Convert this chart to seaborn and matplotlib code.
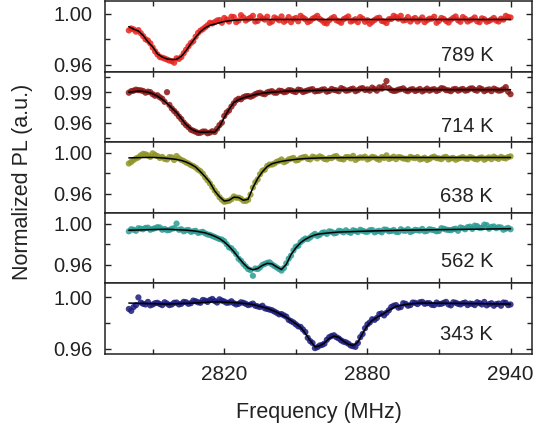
import matplotlib
matplotlib.use("Agg")
import matplotlib.pyplot as plt
from matplotlib.ticker import MultipleLocator, FixedLocator, FormatStrFormatter
import seaborn as sns
import pandas as pd

# ---------------- data ----------------
freq_even = [2780, 2782, 2784, 2786, 2788, 2790, 2792, 2794, 2796, 2798,
             2800, 2802, 2804, 2806, 2808, 2810, 2812, 2814, 2816, 2818,
             2820, 2822, 2824, 2826, 2828, 2830, 2832, 2834, 2836, 2838,
             2840, 2842, 2844, 2846, 2848, 2850, 2852, 2854, 2856, 2858,
             2860, 2862, 2864, 2866, 2868, 2870, 2872, 2874, 2876, 2878,
             2880, 2882, 2884, 2886, 2888, 2890, 2892, 2894, 2896, 2898,
             2900, 2902, 2904, 2906, 2908, 2910, 2912, 2914, 2916, 2918,
             2920, 2922, 2924, 2926, 2928, 2930, 2932, 2934, 2936, 2938,
             2940]
freq_odd = [2781, 2783, 2785, 2787, 2789, 2791, 2793, 2795, 2797, 2799,
            2801, 2803, 2805, 2807, 2809, 2811, 2813, 2815, 2817, 2819,
            2821, 2823, 2825, 2827, 2829, 2831, 2833, 2835, 2837, 2839,
            2841, 2843, 2845, 2847, 2849, 2851, 2853, 2855, 2857, 2859,
            2861, 2863, 2865, 2867, 2869, 2871, 2873, 2875, 2877, 2879,
            2881, 2883, 2885, 2887, 2889, 2891, 2893, 2895, 2897, 2899,
            2901, 2903, 2905, 2907, 2909, 2911, 2913, 2915, 2917, 2919,
            2921, 2923, 2925, 2927, 2929, 2931, 2933, 2935, 2937, 2939]

labels = ["789 K", "714 K", "638 K", "562 K", "343 K"]
colors = ["#e8241e", "#8c1616", "#8e9426", "#2a9c94", "#1c1c7e"]

# measured PL at even frequencies
pl_789_even = [0.9870, 0.9878, 0.9872, 0.9825, 0.9790, 0.9735, 0.9680, 0.9655, 0.9640, 0.9628,
               0.9650, 0.9660, 0.9718, 0.9770, 0.9820, 0.9868, 0.9895, 0.9930, 0.9935, 0.9952,
               0.9968, 0.9940, 0.9975, 0.9948, 0.9972, 0.9960, 0.9985, 0.9945, 0.9965, 0.9978,
               0.9940, 0.9962, 0.9980, 0.9950, 0.9935, 0.9968, 0.9985, 0.9958, 0.9945, 0.9972,
               0.9960, 0.9930, 0.9950, 0.9975, 0.9942, 0.9958, 0.9980, 0.9948, 0.9935, 0.9962,
               0.9950, 0.9938, 0.9965, 0.9945, 0.9928, 0.9960, 0.9975, 0.9985, 0.9952, 0.9940,
               0.9968, 0.9955, 0.9935, 0.9962, 0.9978, 0.9945, 0.9960, 0.9932, 0.9968, 0.9950,
               0.9975, 0.9940, 0.9958, 0.9942, 0.9965, 0.9938, 0.9955, 0.9948, 0.9962, 0.9985,
               0.9972]
pl_714_even = [0.9895, 0.9915, 0.9920, 0.9912, 0.9905, 0.9880, 0.9870, 0.9835, 0.9900, 0.9740,
               0.9690, 0.9635, 0.9575, 0.9530, 0.9510, 0.9500, 0.9512, 0.9502, 0.9508, 0.9575,
               0.9665, 0.9720, 0.9790, 0.9835, 0.9850, 0.9862, 0.9865, 0.9890, 0.9885, 0.9898,
               0.9910, 0.9895, 0.9912, 0.9905, 0.9918, 0.9902, 0.9920, 0.9910, 0.9925, 0.9908,
               0.9915, 0.9928, 0.9912, 0.9922, 0.9910, 0.9930, 0.9918, 0.9935, 0.9920, 0.9940,
               0.9928, 0.9945, 0.9915, 0.9935, 1.0010, 0.9920, 0.9915, 0.9930, 0.9918, 0.9925,
               0.9912, 0.9932, 0.9920, 0.9915, 0.9930, 0.9922, 0.9935, 0.9918, 0.9928, 0.9915,
               0.9932, 0.9920, 0.9938, 0.9915, 0.9930, 0.9922, 0.9910, 0.9925, 0.9918, 0.9950,
               0.9880]
pl_638_even = [0.9895, 0.9930, 0.9955, 0.9990, 0.9975, 0.9995, 0.9968, 0.9960, 0.9935, 0.9955,
               0.9968, 0.9930, 0.9905, 0.9880, 0.9855, 0.9820, 0.9760, 0.9700, 0.9630, 0.9565,
               0.9520, 0.9530, 0.9572, 0.9560, 0.9530, 0.9540, 0.9660, 0.9740, 0.9825, 0.9870,
               0.9885, 0.9912, 0.9935, 0.9918, 0.9942, 0.9925, 0.9948, 0.9960, 0.9935, 0.9955,
               0.9965, 0.9940, 0.9950, 0.9962, 0.9945, 0.9935, 0.9958, 0.9970, 0.9945, 0.9952,
               0.9935, 0.9960, 0.9942, 0.9958, 0.9975, 0.9948, 0.9938, 0.9955, 0.9942, 0.9960,
               0.9948, 0.9935, 0.9952, 0.9940, 0.9962, 0.9945, 0.9955, 0.9935, 0.9950, 0.9942,
               0.9958, 0.9940, 0.9952, 0.9935, 0.9955, 0.9945, 0.9938, 0.9950, 0.9960, 0.9945,
               0.9965]
pl_562_even = [0.9925, 0.9940, 0.9955, 0.9945, 0.9960, 0.9948, 0.9965, 0.9940, 0.9935, 0.9950,
               1.0000, 0.9945, 0.9935, 0.9920, 0.9930, 0.9915, 0.9905, 0.9890, 0.9870, 0.9850,
               0.9830, 0.9770, 0.9735, 0.9660, 0.9610, 0.9560, 0.9495, 0.9560, 0.9600, 0.9620,
               0.9605, 0.9575, 0.9545, 0.9615, 0.9690, 0.9775, 0.9820, 0.9855, 0.9865, 0.9900,
               0.9890, 0.9915, 0.9925, 0.9905, 0.9930, 0.9915, 0.9920, 0.9935, 0.9918, 0.9930,
               0.9920, 0.9938, 0.9925, 0.9915, 0.9940, 0.9928, 0.9920, 0.9945, 0.9930, 0.9918,
               0.9940, 0.9932, 0.9925, 0.9945, 0.9935, 0.9928, 0.9950, 0.9938, 0.9945, 0.9930,
               0.9955, 0.9965, 0.9948, 0.9975, 0.9960, 0.9985, 0.9968, 0.9955, 0.9962, 0.9950,
               0.9945]
pl_343_even = [0.9910, 0.9925, 1.0000, 0.9950, 0.9965, 0.9945, 0.9958, 0.9940, 0.9952, 0.9945,
               0.9960, 0.9950, 0.9962, 0.9955, 0.9970, 0.9958, 0.9975, 0.9980, 0.9972, 0.9985,
               0.9968, 0.9960, 0.9955, 0.9950, 0.9958, 0.9940, 0.9952, 0.9930, 0.9935, 0.9910,
               0.9900, 0.9880, 0.9870, 0.9850, 0.9815, 0.9790, 0.9770, 0.9730, 0.9660, 0.9605,
               0.9625, 0.9640, 0.9690, 0.9705, 0.9680, 0.9655, 0.9640, 0.9620, 0.9645, 0.9715,
               0.9790, 0.9830, 0.9840, 0.9875, 0.9880, 0.9925, 0.9940, 0.9925, 0.9950, 0.9940,
               0.9958, 0.9962, 0.9950, 0.9955, 0.9940, 0.9948, 0.9958, 0.9945, 0.9962, 0.9950,
               0.9955, 0.9940, 0.9950, 0.9962, 0.9945, 0.9938, 0.9955, 0.9948, 0.9935, 0.9958,
               0.9945]

# measured PL at odd frequencies
pl_789_odd = [0.9885, 0.9860, 0.9848, 0.9800, 0.9768, 0.9705, 0.9660, 0.9648, 0.9632, 0.9615,
              0.9645, 0.9690, 0.9745, 0.9785, 0.9850, 0.9880, 0.9910, 0.9925, 0.9948, 0.9930,
              0.9955, 0.9978, 0.9935, 0.9990, 0.9948, 0.9970, 0.9940, 0.9982, 0.9955, 0.9930,
              0.9972, 0.9950, 0.9938, 0.9975, 0.9960, 0.9942, 0.9970, 0.9935, 0.9962, 0.9985,
              0.9948, 0.9925, 0.9965, 0.9950, 0.9930, 0.9968, 0.9940, 0.9958, 0.9975, 0.9938,
              0.9922, 0.9952, 0.9970, 0.9940, 0.9958, 0.9985, 0.9962, 0.9948, 0.9975, 0.9958,
              0.9940, 0.9972, 0.9950, 0.9962, 0.9930, 0.9968, 0.9945, 0.9955, 0.9980, 0.9938,
              0.9962, 0.9950, 0.9972, 0.9935, 0.9958, 0.9945, 0.9968, 0.9940, 0.9955, 0.9975]
pl_714_odd = [0.9910, 0.9925, 0.9918, 0.9895, 0.9900, 0.9865, 0.9850, 0.9805, 0.9775, 0.9715,
              0.9660, 0.9600, 0.9555, 0.9520, 0.9498, 0.9512, 0.9495, 0.9515, 0.9540, 0.9600,
              0.9700, 0.9758, 0.9820, 0.9830, 0.9860, 0.9855, 0.9880, 0.9895, 0.9880, 0.9905,
              0.9895, 0.9915, 0.9900, 0.9920, 0.9908, 0.9925, 0.9902, 0.9918, 0.9930, 0.9912,
              0.9925, 0.9905, 0.9932, 0.9918, 0.9940, 0.9915, 0.9928, 0.9910, 0.9935, 0.9922,
              0.9915, 0.9930, 0.9948, 0.9960, 0.9940, 0.9912, 0.9925, 0.9938, 0.9910, 0.9930,
              0.9920, 0.9908, 0.9935, 0.9925, 0.9912, 0.9940, 0.9920, 0.9910, 0.9932, 0.9925,
              0.9915, 0.9935, 0.9922, 0.9940, 0.9910, 0.9928, 0.9935, 0.9915, 0.9930, 0.9905]
pl_638_odd = [0.9910, 0.9945, 0.9975, 0.9985, 0.9960, 0.9980, 0.9950, 0.9940, 0.9958, 0.9930,
              0.9945, 0.9920, 0.9895, 0.9870, 0.9835, 0.9795, 0.9730, 0.9665, 0.9600, 0.9540,
              0.9525, 0.9545, 0.9560, 0.9550, 0.9528, 0.9590, 0.9710, 0.9790, 0.9835, 0.9885,
              0.9895, 0.9920, 0.9908, 0.9935, 0.9950, 0.9930, 0.9955, 0.9940, 0.9962, 0.9945,
              0.9955, 0.9935, 0.9948, 0.9968, 0.9940, 0.9958, 0.9945, 0.9930, 0.9955, 0.9962,
              0.9945, 0.9955, 0.9932, 0.9950, 0.9940, 0.9962, 0.9958, 0.9945, 0.9935, 0.9952,
              0.9958, 0.9942, 0.9930, 0.9955, 0.9948, 0.9938, 0.9960, 0.9945, 0.9932, 0.9950,
              0.9945, 0.9958, 0.9940, 0.9950, 0.9932, 0.9955, 0.9962, 0.9940, 0.9950, 0.9958]
pl_562_odd = [0.9945, 0.9930, 0.9950, 0.9958, 0.9940, 0.9955, 0.9962, 0.9948, 0.9938, 0.9955,
              0.9940, 0.9925, 0.9938, 0.9925, 0.9910, 0.9920, 0.9895, 0.9880, 0.9860, 0.9845,
              0.9800, 0.9760, 0.9705, 0.9640, 0.9585, 0.9550, 0.9565, 0.9575, 0.9610, 0.9625,
              0.9590, 0.9560, 0.9570, 0.9660, 0.9740, 0.9785, 0.9840, 0.9850, 0.9885, 0.9880,
              0.9910, 0.9900, 0.9920, 0.9910, 0.9925, 0.9935, 0.9910, 0.9928, 0.9940, 0.9922,
              0.9935, 0.9915, 0.9930, 0.9942, 0.9925, 0.9938, 0.9918, 0.9932, 0.9945, 0.9928,
              0.9935, 0.9948, 0.9930, 0.9940, 0.9925, 0.9955, 0.9942, 0.9935, 0.9950, 0.9962,
              0.9945, 0.9970, 0.9980, 0.9958, 0.9990, 0.9950, 0.9972, 0.9965, 0.9940, 0.9958]
pl_343_odd = [0.9895, 0.9940, 0.9960, 0.9945, 0.9938, 0.9955, 0.9948, 0.9962, 0.9940, 0.9958,
              0.9945, 0.9965, 0.9950, 0.9975, 0.9962, 0.9980, 0.9965, 0.9988, 0.9960, 0.9975,
              0.9958, 0.9970, 0.9945, 0.9962, 0.9950, 0.9945, 0.9935, 0.9925, 0.9915, 0.9905,
              0.9890, 0.9868, 0.9860, 0.9825, 0.9805, 0.9775, 0.9750, 0.9685, 0.9645, 0.9612,
              0.9630, 0.9670, 0.9700, 0.9690, 0.9665, 0.9650, 0.9625, 0.9615, 0.9690, 0.9760,
              0.9805, 0.9825, 0.9870, 0.9860, 0.9900, 0.9935, 0.9920, 0.9955, 0.9935, 0.9960,
              0.9948, 0.9965, 0.9955, 0.9942, 0.9960, 0.9950, 0.9965, 0.9938, 0.9958, 0.9945,
              0.9960, 0.9952, 0.9940, 0.9955, 0.9965, 0.9948, 0.9935, 0.9952, 0.9960, 0.9940]

# fitted curves (black lines)
fit_f_789 = [2780, 2782, 2784, 2786, 2788, 2790, 2792, 2794, 2796, 2798, 2800, 2802,
             2804, 2806, 2808, 2810, 2812, 2814, 2816, 2818, 2820, 2822, 2824, 2826,
             2828, 2840, 2880, 2940]
fit_v_789 = [0.9900, 0.9880, 0.9865, 0.9830, 0.9780, 0.9740, 0.9685, 0.9660, 0.9645, 0.9640,
             0.9642, 0.9665, 0.9710, 0.9765, 0.9815, 0.9860, 0.9890, 0.9910, 0.9920, 0.9930,
             0.9940, 0.9945, 0.9950, 0.9952, 0.9955, 0.9956, 0.9956, 0.9956]
fit_f_714 = [2780, 2782, 2784, 2786, 2788, 2790, 2792, 2794, 2796, 2798, 2800, 2802,
             2804, 2806, 2808, 2810, 2812, 2814, 2816, 2818, 2820, 2822, 2824, 2826,
             2828, 2830, 2832, 2834, 2836, 2838, 2840, 2842, 2846, 2850, 2860, 2870,
             2880, 2940]
fit_v_714 = [0.9900, 0.9905, 0.9910, 0.9908, 0.9900, 0.9885, 0.9860, 0.9830, 0.9790, 0.9745,
             0.9700, 0.9640, 0.9580, 0.9540, 0.9515, 0.9505, 0.9505, 0.9510, 0.9505, 0.9560,
             0.9650, 0.9730, 0.9798, 0.9825, 0.9844, 0.9858, 0.9870, 0.9882, 0.9890, 0.9895,
             0.9900, 0.9903, 0.9910, 0.9913, 0.9918, 0.9922, 0.9925, 0.9925]
fit_f_638 = [2780, 2786, 2790, 2794, 2798, 2800, 2802, 2804, 2806, 2808, 2810, 2812,
             2814, 2816, 2818, 2820, 2822, 2824, 2826, 2828, 2830, 2832, 2834, 2836,
             2838, 2840, 2842, 2844, 2846, 2848, 2850, 2854, 2860, 2870, 2880, 2940]
fit_v_638 = [0.9950, 0.9954, 0.9955, 0.9950, 0.9941, 0.9935, 0.9925, 0.9910, 0.9888, 0.9860,
             0.9815, 0.9765, 0.9710, 0.9626, 0.9570, 0.9527, 0.9535, 0.9565, 0.9562, 0.9535,
             0.9545, 0.9658, 0.9748, 0.9815, 0.9865, 0.9893, 0.9906, 0.9916, 0.9924, 0.9930,
             0.9936, 0.9944, 0.9950, 0.9953, 0.9954, 0.9954]
fit_f_562 = [2780, 2788, 2796, 2804, 2808, 2812, 2814, 2816, 2818, 2820, 2822, 2824,
             2826, 2828, 2830, 2832, 2834, 2836, 2838, 2840, 2842, 2844, 2846, 2848,
             2850, 2852, 2854, 2856, 2858, 2860, 2864, 2868, 2880, 2894, 2910, 2940]
fit_v_562 = [0.9935, 0.9941, 0.9945, 0.9936, 0.9927, 0.9910, 0.9895, 0.9877, 0.9855, 0.9822,
             0.9780, 0.9728, 0.9670, 0.9615, 0.9570, 0.9553, 0.9565, 0.9595, 0.9615, 0.9610,
             0.9580, 0.9555, 0.9605, 0.9700, 0.9765, 0.9815, 0.9848, 0.9872, 0.9890, 0.9900,
             0.9910, 0.9918, 0.9927, 0.9935, 0.9941, 0.9950]
fit_f_343 = [2780, 2790, 2796, 2806, 2816, 2824, 2831, 2834, 2838, 2842, 2846, 2850,
             2852, 2854, 2856, 2858, 2860, 2862, 2864, 2866, 2868, 2870, 2872, 2874,
             2876, 2878, 2880, 2882, 2884, 2886, 2888, 2890, 2892, 2896, 2902, 2920,
             2940]
fit_v_343 = [0.9956, 0.9951, 0.9948, 0.9955, 0.9965, 0.9960, 0.9948, 0.9935, 0.9915, 0.9885,
             0.9845, 0.9795, 0.9767, 0.9720, 0.9664, 0.9615, 0.9622, 0.9645, 0.9680, 0.9698,
             0.9690, 0.9658, 0.9635, 0.9626, 0.9650, 0.9720, 0.9780, 0.9820, 0.9845, 0.9865,
             0.9888, 0.9910, 0.9930, 0.9945, 0.9956, 0.9953, 0.9948]

series = [(pl_789_even, pl_789_odd), (pl_714_even, pl_714_odd), (pl_638_even, pl_638_odd),
          (pl_562_even, pl_562_odd), (pl_343_even, pl_343_odd)]
fits = [(fit_f_789, fit_v_789), (fit_f_714, fit_v_714), (fit_f_638, fit_v_638),
        (fit_f_562, fit_v_562), (fit_f_343, fit_v_343)]

ylims = [(0.9545, 1.0102), (0.9407, 1.0103), (0.9412, 1.0104),
         (0.9421, 1.0104), (0.9559, 1.0109)]
major_steps = [0.04, 0.03, 0.04, 0.04, 0.04]
minor_steps = [0.02, 0.015, 0.02, 0.02, 0.02]
label_y = [0.235, 0.22, 0.23, 0.31, 0.28]

# ---------------- style ----------------
sns.set_style("ticks")
plt.rcParams["font.family"] = ["Liberation Sans", "DejaVu Sans"]
plt.rcParams["axes.linewidth"] = 1.1

fig = plt.figure(figsize=(5.37, 4.30), dpi=100)
axes = fig.subplots(5, 1, sharex=True, gridspec_kw=dict(hspace=0))
fig.subplots_adjust(left=0.1955, right=0.9907, top=0.9977, bottom=0.1767)

for i, ax in enumerate(axes):
    ev, od = series[i]
    df = pd.DataFrame({"Frequency": freq_even + freq_odd, "PL": ev + od})
    df = df.sort_values("Frequency")
    sns.scatterplot(data=df, x="Frequency", y="PL", ax=ax, color=colors[i],
                    s=20, edgecolor="none", alpha=0.85, zorder=2)
    ff, fv = fits[i]
    sns.lineplot(x=ff, y=fv, ax=ax, color="black", lw=1.1, estimator=None,
                 sort=True, zorder=3)
    ax.set_xlim(2770, 2949)
    ax.set_ylim(*ylims[i])
    ax.xaxis.set_major_locator(FixedLocator([2820, 2880, 2940]))
    ax.xaxis.set_minor_locator(FixedLocator([2790, 2850, 2910]))
    ax.yaxis.set_major_locator(MultipleLocator(major_steps[i]))
    ax.yaxis.set_minor_locator(MultipleLocator(minor_steps[i]))
    ax.yaxis.set_major_formatter(FormatStrFormatter("%.2f"))
    ax.tick_params(which="both", direction="in", top=True, right=True,
                   width=1.0, colors="#222222")
    ax.tick_params(which="major", length=4.5)
    ax.tick_params(which="minor", length=3.5)
    ax.tick_params(axis="y", labelsize=14.5, pad=9, labelcolor="#222222")
    ax.tick_params(axis="x", labelsize=15, pad=8, labelcolor="#222222")
    ax.set_ylabel("")
    ax.set_xlabel("")
    ax.text(0.909, label_y[i], labels[i], transform=ax.transAxes,
            ha="right", va="center", fontsize=14.5, color="#222222")
    for sp in ax.spines.values():
        sp.set_color("#222222")

axes[-1].set_xlabel("Frequency (MHz)", fontsize=15.5, labelpad=13, color="#222222")
fig.text(22.5 / 537, 1 - 182 / 430, "Normalized PL (a.u.)", rotation=90,
         ha="center", va="center", fontsize=15.5, color="#222222")

fig.savefig("out.png", dpi=100)
